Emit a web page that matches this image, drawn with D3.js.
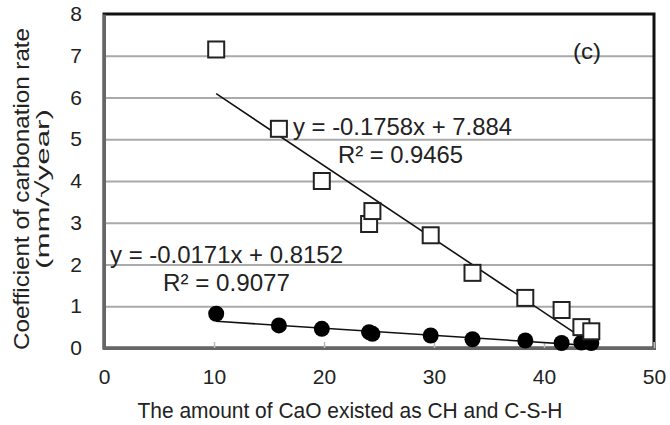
<!DOCTYPE html>
<html>
<head>
<meta charset="utf-8">
<script src="https://cdn.jsdelivr.net/npm/d3@7"></script>
<style>
  body { margin: 0; background: #fff; }
  text { font-family: "Liberation Sans", Arial, sans-serif; fill: #222; }
</style>
</head>
<body>
<div id="chart"></div>
<script>
// x values (CaO existed as CH and C-S-H)
var xValues = [10.2, 15.9, 19.8, 24.1, 24.4, 29.7, 33.5, 38.3, 41.6, 43.4, 44.3];
// open squares
var squareValues = [7.15, 5.25, 4.0, 2.97, 3.28, 2.7, 1.8, 1.2, 0.91, 0.5, 0.4];
// filled circles
var circleValues = [0.82, 0.54, 0.46, 0.38, 0.34, 0.3, 0.21, 0.18, 0.12, 0.13, 0.12];
// trend lines: slope, intercept, x range
var squareFit = { slope: -0.1758, intercept: 7.884, range: [10.2, 43.4] };
var circleFit = { slope: -0.0171, intercept: 0.8152, range: [10.2, 44.3] };
var squareLabel = ["y = -0.1758x + 7.884", "R² = 0.9465"];
var circleLabel = ["y = -0.0171x + 0.8152", "R² = 0.9077"];
var xTicks = [0, 10, 20, 30, 40, 50];
var yTicks = [0, 1, 2, 3, 4, 5, 6, 7, 8];

var width = 670, height = 425;
var margin = { top: 14, right: 16, bottom: 77, left: 104 };
var chartWidth = width - margin.left - margin.right;
var chartHeight = height - margin.top - margin.bottom;

var svg = d3.select("#chart").append("svg")
  .attr("width", width)
  .attr("height", height);

var g = svg.append("g")
  .attr("transform", `translate(${margin.left}, ${margin.top})`);

var xScale = d3.scaleLinear().domain([0, 50]).range([0, chartWidth]);
var yScale = d3.scaleLinear().domain([0, 8]).range([chartHeight, 0]);

// gridlines
g.append("g")
  .attr("class", "grid")
  .call(d3.axisLeft(yScale).tickValues(yTicks.slice(1, -1)).tickSize(-chartWidth).tickFormat(""))
  .call(s => s.select(".domain").remove())
  .call(s => s.selectAll("line").attr("stroke", "#aaa").attr("stroke-width", 2));

// frame
g.append("rect")
  .attr("width", chartWidth)
  .attr("height", chartHeight)
  .attr("fill", "none")
  .attr("stroke", "#111")
  .attr("stroke-width", 3);

// x axis, small inside ticks
var xAxis = g.append("g")
  .attr("transform", `translate(0, ${chartHeight})`)
  .call(d3.axisBottom(xScale).tickValues(xTicks).tickSize(-6).tickPadding(21));
xAxis.select(".domain").attr("stroke", "#666").attr("stroke-width", 3);
xAxis.selectAll(".tick line").attr("stroke", "#bbb").attr("stroke-width", 1.5);
xAxis.selectAll("text").attr("font-size", 21).attr("fill", "#222")
  .attr("font-family", "Liberation Sans, Arial, sans-serif");

// y axis
var yAxis = g.append("g")
  .call(d3.axisLeft(yScale).tickValues(yTicks).tickSize(0).tickPadding(22));
yAxis.select(".domain").attr("stroke", "#666").attr("stroke-width", 3);
yAxis.selectAll("text").attr("font-size", 21).attr("fill", "#222")
  .attr("font-family", "Liberation Sans, Arial, sans-serif");

// trend lines
var line = d3.line().x(d => xScale(d[0])).y(d => yScale(d[1]));
[squareFit, circleFit].forEach(f => {
  g.append("path")
    .datum(f.range.map(x => [x, f.slope * x + f.intercept]))
    .attr("d", line)
    .attr("fill", "none")
    .attr("stroke", "#111")
    .attr("stroke-width", 1.6);
});

var points = xValues.map((x, i) => ({ x: x, sq: squareValues[i], ci: circleValues[i] }));

// circles
g.append("g").selectAll("circle")
  .data(points)
  .enter()
  .append("circle")
  .attr("cx", d => xScale(d.x))
  .attr("cy", d => yScale(d.ci))
  .attr("r", 8)
  .attr("fill", "#000");

// squares
var side = 16;
g.append("g").selectAll("rect")
  .data(points)
  .enter()
  .append("rect")
  .attr("x", d => xScale(d.x) - side / 2)
  .attr("y", d => yScale(d.sq) - side / 2)
  .attr("width", side)
  .attr("height", side)
  .attr("fill", "#fff")
  .attr("stroke", "#222")
  .attr("stroke-width", 2);

// equation labels
svg.append("text").attr("x", 293).attr("y", 135).attr("font-size", 24)
  .attr("textLength", 219).attr("lengthAdjust", "spacingAndGlyphs").text(squareLabel[0]);
svg.append("text").attr("x", 338).attr("y", 163).attr("font-size", 24)
  .attr("textLength", 125).attr("lengthAdjust", "spacingAndGlyphs").text(squareLabel[1]);
svg.append("text").attr("x", 110).attr("y", 263).attr("font-size", 24)
  .attr("textLength", 233).attr("lengthAdjust", "spacingAndGlyphs").text(circleLabel[0]);
svg.append("text").attr("x", 163).attr("y", 291).attr("font-size", 24)
  .attr("textLength", 127).attr("lengthAdjust", "spacingAndGlyphs").text(circleLabel[1]);

svg.append("text").attr("x", 573).attr("y", 59).attr("font-size", 22)
  .attr("textLength", 28).attr("lengthAdjust", "spacingAndGlyphs").text("(c)");

// axis titles
svg.append("text")
  .attr("x", 350).attr("y", 418)
  .attr("text-anchor", "middle")
  .attr("font-size", 22)
  .attr("textLength", 425).attr("lengthAdjust", "spacingAndGlyphs")
  .text("The amount of CaO existed as CH and C-S-H");

var yTitle = svg.append("g").attr("transform", "translate(0, 189) rotate(-90)");
yTitle.append("text")
  .attr("x", 0).attr("y", 29)
  .attr("text-anchor", "middle")
  .attr("font-size", 22)
  .attr("textLength", 322).attr("lengthAdjust", "spacingAndGlyphs")
  .text("Coefficient of carbonation rate");
yTitle.append("text")
  .attr("x", 0).attr("y", 49)
  .attr("text-anchor", "middle")
  .attr("font-size", 19)
  .attr("textLength", 160).attr("lengthAdjust", "spacingAndGlyphs")
  .text("(mm/√year)");
</script>
</body>
</html>
